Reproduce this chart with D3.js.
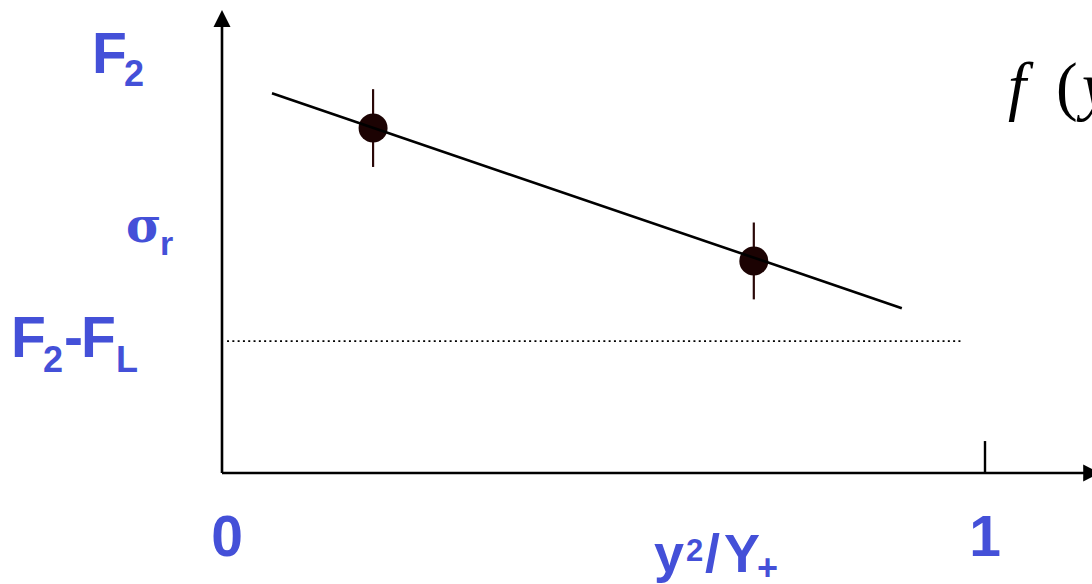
<!DOCTYPE html>
<html>
<head>
<meta charset="utf-8">
<script src="https://cdn.jsdelivr.net/npm/d3@7"></script>
<style>
  html, body { margin: 0; padding: 0; background: #fff; overflow: hidden; }
  svg { display: block; }
  .lbl { font-family: "Liberation Sans", Arial, sans-serif; font-weight: bold; fill: #4450d8; }
  .math { font-family: "Liberation Serif", "Times New Roman", serif; fill: #000; }
</style>
</head>
<body>
<svg id="chart" width="1092" height="584"></svg>
<script>
// Reduced cross section vs y^2/Y+ : two measurements, linear fit, F2-FL level
const pointX   = [0.198, 0.697];
const pointY   = [0.745, 0.458];
const pointErr = [0.084, 0.083];

const fitX = [0.0655, 0.891];
const fitY = [0.820, 0.356];

const levelX = [0.0066, 0.971];
const levelY = [0.285, 0.285];

const xTickValues = [0, 1];
const xTickLabels = ["0", "1"];

const svg = d3.select("#chart");

const x = d3.scaleLinear().domain([0, 1]).range([222, 985]);
const y = d3.scaleLinear().domain([0, 1]).range([473, 10]);

const ink = "#000";

// axes with arrow heads
svg.append("line")
  .attr("x1", x(0)).attr("x2", x(1.14))
  .attr("y1", y(0)).attr("y2", y(0))
  .attr("stroke", ink).attr("stroke-width", 2.6);
svg.append("path")
  .attr("d", d3.line()([[x(1.151), y(0)], [x(1.151) - 17, y(0) - 8.5], [x(1.151) - 17, y(0) + 8.5]]) + "Z")
  .attr("fill", ink);

svg.append("line")
  .attr("x1", x(0)).attr("x2", x(0))
  .attr("y1", y(0)).attr("y2", y(0.97))
  .attr("stroke", ink).attr("stroke-width", 2.6);
svg.append("path")
  .attr("d", d3.line()([[x(0), y(1)], [x(0) - 8.5, y(1) + 17], [x(0) + 8.5, y(1) + 17]]) + "Z")
  .attr("fill", ink);

// tick at x = 1
svg.append("line")
  .attr("x1", x(1)).attr("x2", x(1))
  .attr("y1", y(0)).attr("y2", y(0.069))
  .attr("stroke", ink).attr("stroke-width", 2.4);

// F2-FL level (dotted)
const line = d3.line().x(d => x(d[0])).y(d => y(d[1]));
svg.append("path")
  .attr("d", line(d3.zip(levelX, levelY)))
  .attr("fill", "none")
  .attr("stroke", ink)
  .attr("stroke-width", 1.8)
  .attr("stroke-dasharray", "2,3.3");

// error bars
svg.selectAll(".err")
  .data(d3.range(pointX.length))
  .join("line")
  .attr("x1", i => x(pointX[i])).attr("x2", i => x(pointX[i]))
  .attr("y1", i => y(pointY[i] + pointErr[i]))
  .attr("y2", i => y(pointY[i] - pointErr[i]))
  .attr("stroke", "#2a0808").attr("stroke-width", 2.2);

// measured points
svg.selectAll(".pt")
  .data(d3.range(pointX.length))
  .join("circle")
  .attr("cx", i => x(pointX[i]))
  .attr("cy", i => y(pointY[i]))
  .attr("r", 14.5)
  .attr("fill", "#1c0303");

// linear fit
svg.append("path")
  .attr("d", line(d3.zip(fitX, fitY)))
  .attr("fill", "none")
  .attr("stroke", ink)
  .attr("stroke-width", 2.6);

// x tick labels
svg.selectAll(".xt")
  .data(xTickValues)
  .join("text")
  .attr("class", "lbl")
  .attr("x", d => x(d) + (d === 0 ? 5 : 0))
  .attr("y", 556)
  .attr("text-anchor", "middle")
  .attr("font-size", 57)
  .text((d, i) => xTickLabels[i]);

// one label built from runs of [text, x, y, size, extra style]
function label(runs) {
  const t = svg.append("text").attr("class", "lbl");
  runs.forEach(([s, px, py, fs, fam]) => {
    const sp = t.append("tspan").attr("x", px).attr("y", py).attr("font-size", fs).text(s);
    if (fam) sp.style("font-family", fam);
  });
  return t;
}

// x axis title: y²/Y+
label([["y", 654, 572, 54], ["2", 686, 561, 31], ["/", 705, 572, 54], ["Y", 724, 572, 54], ["+", 757, 580, 36]]);

// y-side labels
label([["F", 92, 73, 57], ["2", 124, 86, 36]]);
label([["σ", 126, 242, 48, "'DejaVu Serif', serif"], ["r", 160, 255, 34]]);
label([["F", 11, 357, 57], ["2", 43, 372, 36], ["-", 64, 357, 57], ["F", 81, 357, 57], ["L", 116, 372, 36]]);

// formula at the right edge: f(y)
const fm = svg.append("text").attr("class", "math").attr("font-size", 65);
fm.append("tspan").attr("x", 1008).attr("y", 108).attr("font-style", "italic").text("f");
fm.append("tspan").attr("x", 1056).attr("y", 108).text("(");
fm.append("tspan").attr("x", 1082).attr("y", 108).attr("font-style", "italic").text("y)");
</script>
</body>
</html>
